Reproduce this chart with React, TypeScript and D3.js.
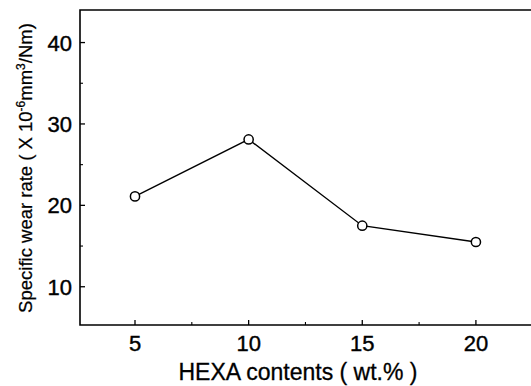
import React, { useEffect, useRef } from "react";
import * as d3 from "d3";

// HEXA content (wt.%) vs specific wear rate
const hexaContents = [5, 10, 15, 20];
const wearRates = [21.1, 28.1, 17.5, 15.5];
const xTickValues = [5, 10, 15, 20];
const xMinorTicks = [7.5, 12.5, 17.5];
const yTickValues = [10, 20, 30, 40];
const yMinorTicks = [15, 25, 35];

const width = 531;
const height = 386;
const FONT = "'Liberation Sans', Arial, sans-serif";

export default function App() {
  const ref = useRef<SVGSVGElement | null>(null);

  useEffect(() => {
    document.body.style.margin = "0";
    const svg = d3.select(ref.current);
    svg.selectAll("*").remove();

    const x = d3.scaleLinear().domain([2.58, 22.82]).range([80, 540]);
    const y = d3.scaleLinear().domain([5.3, 44]).range([325, 10]);

    const g = svg.append("g");

    // frame (open on the right, it runs off the picture)
    g.append("path")
      .attr("d", `M${x.range()[1]},${y(44)} H${x(2.58)} V${y(5.3)} H${x.range()[1]}`)
      .attr("fill", "none")
      .attr("stroke", "#000")
      .attr("stroke-width", 1.6);

    // x ticks, inward
    g.selectAll(".xt")
      .data(xTickValues)
      .enter()
      .append("line")
      .attr("x1", d => x(d))
      .attr("x2", d => x(d))
      .attr("y1", y(5.3))
      .attr("y2", y(5.3) - 5)
      .attr("stroke", "#000")
      .attr("stroke-width", 1.3);
    g.selectAll(".xm")
      .data(xMinorTicks)
      .enter()
      .append("line")
      .attr("x1", d => x(d))
      .attr("x2", d => x(d))
      .attr("y1", y(5.3))
      .attr("y2", y(5.3) - 3)
      .attr("stroke", "#000")
      .attr("stroke-width", 1.1);
    g.selectAll(".xl")
      .data(xTickValues)
      .enter()
      .append("text")
      .attr("x", d => x(d))
      .attr("y", 351)
      .attr("text-anchor", "middle")
      .style("font-family", FONT)
      .style("font-size", "22px")
      .style("stroke", "#000")
      .style("stroke-width", 0.4)
      .text(d => d);

    // y ticks, inward
    g.selectAll(".yt")
      .data(yTickValues)
      .enter()
      .append("line")
      .attr("x1", x(2.58))
      .attr("x2", x(2.58) + 5)
      .attr("y1", d => y(d))
      .attr("y2", d => y(d))
      .attr("stroke", "#000")
      .attr("stroke-width", 1.3);
    g.selectAll(".ym")
      .data(yMinorTicks)
      .enter()
      .append("line")
      .attr("x1", x(2.58))
      .attr("x2", x(2.58) + 3)
      .attr("y1", d => y(d))
      .attr("y2", d => y(d))
      .attr("stroke", "#000")
      .attr("stroke-width", 1.1);
    g.selectAll(".yl")
      .data(yTickValues)
      .enter()
      .append("text")
      .attr("x", 72)
      .attr("y", d => y(d) + 8)
      .attr("text-anchor", "end")
      .style("font-family", FONT)
      .style("font-size", "22px")
      .style("stroke", "#000")
      .style("stroke-width", 0.4)
      .text(d => d);

    // series
    const pts = hexaContents.map((c, i) => [c, wearRates[i]] as [number, number]);
    const line = d3
      .line<[number, number]>()
      .x(d => x(d[0]))
      .y(d => y(d[1]));
    g.append("path")
      .datum(pts)
      .attr("d", line)
      .attr("fill", "none")
      .attr("stroke", "#000")
      .attr("stroke-width", 1.4);
    g.selectAll(".pt")
      .data(pts)
      .enter()
      .append("circle")
      .attr("cx", d => x(d[0]))
      .attr("cy", d => y(d[1]))
      .attr("r", 4.6)
      .attr("fill", "#fff")
      .attr("stroke", "#000")
      .attr("stroke-width", 1.5);

    // axis titles
    g.append("text")
      .attr("x", 298)
      .attr("y", 380)
      .attr("text-anchor", "middle")
      .style("font-family", FONT)
      .style("font-size", "23px")
      .style("stroke", "#000")
      .style("stroke-width", 0.3)
      .text("HEXA contents ( wt.% )");

    const yt = g
      .append("text")
      .attr("transform", "translate(32,168) rotate(-90)")
      .attr("text-anchor", "middle")
      .style("font-family", FONT)
      .style("font-size", "18.5px")
      .style("stroke", "#000")
      .style("stroke-width", 0.25);
    yt.append("tspan").text("Specific wear rate ( X 10");
    yt.append("tspan").attr("dy", -7).style("font-size", "12px").text("-6");
    yt.append("tspan").attr("dy", 7).text("mm");
    yt.append("tspan").attr("dy", -7).style("font-size", "12px").text("3");
    yt.append("tspan").attr("dy", 7).text("/Nm)");
  }, []);

  return <svg ref={ref} width={width} height={height} style={{ display: "block", background: "#fff" }} />;
}
